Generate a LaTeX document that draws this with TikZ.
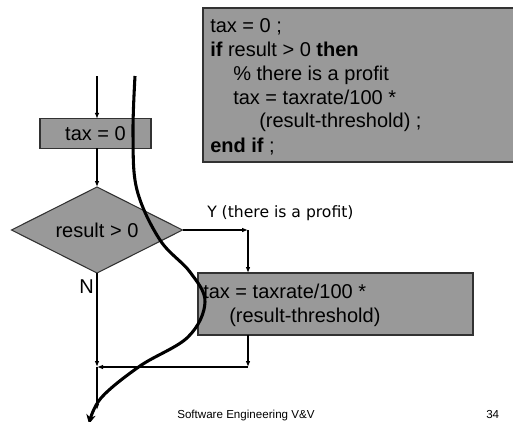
\documentclass[tikz,border=0pt]{standalone}
\usepackage{fontspec}
\setmainfont{Liberation Sans}
\newfontfamily\verdfont{DejaVu Sans}
\usetikzlibrary{shapes.geometric,arrows.meta}
\definecolor{boxgray}{RGB}{153,153,153}
\definecolor{edgegray}{RGB}{50,50,50}
\begin{document}
\begin{tikzpicture}[x=0.75pt,y=-0.75pt,
  box/.style={draw=edgegray, fill=boxgray, line width=0.8pt, inner sep=0pt, outer sep=0pt},
  flow/.style={line width=1pt, -{Latex[length=4.5pt,width=3.5pt]}},
  bigfont/.style={font=\fontsize{15}{18}\selectfont},
  codetxt/.style={anchor=base west, inner sep=0pt, bigfont},
  boxtxt/.style={anchor=base west, inner sep=0pt, bigfont},
  footer/.style={anchor=base west, inner sep=0pt, font=\fontsize{8.7}{10}\selectfont}]
\useasboundingbox (0,0) rectangle (513,421);

% code box
\node[box, minimum width=234.75pt, minimum height=115.5pt] (code) at (359.5,85) {};
\node[codetxt] (c1) at (210,32) {tax = 0 ;};
\node[codetxt] (c2) at (210,56) {\textbf{if} result > 0 \textbf{then}};
\node[codetxt] (c3) at (233,80) {\% there is a profit};
\node[codetxt] (c4) at (233,104) {tax = taxrate/100 *};
\node[codetxt] (c5) at (259,127) {(result-threshold) ;};
\node[codetxt] (c6) at (210,152) {\textbf{end if} ;};

% flowchart
\coordinate (in) at (97,76);
\node[box, minimum width=83.25pt, minimum height=22pt, bigfont] (t0) at (95.5,133.5) {tax = 0};
\node[box, diamond, minimum width=128.25pt, minimum height=64.5pt] (dia) at (97,230) {};
\node[inner sep=0pt, bigfont] (diatxt) at (97,230) {result > 0};
\node[box, minimum width=206.25pt, minimum height=46.5pt] (big) at (335.5,304) {};
\node[boxtxt] (b1) at (203,298) {tax = taxrate/100 *};
\node[boxtxt] (b2) at (229,322) {(result-threshold)};

\coordinate (yc) at (248,230);
\coordinate (rc) at (248,367);
\coordinate (m) at (97,367);
\coordinate (out) at (97,410);

\draw[flow] (in) -- (in |- t0.north);
\draw[flow] (in |- t0.south) -- (dia.north);
\draw[flow] (dia.east) -- (yc);
\draw[flow] (yc) -- (yc |- big.north);
\draw[flow] (yc |- big.south) -- (rc);
\draw[flow] (rc) -- (m);
\draw[flow] (dia.south) -- (m);
\draw[flow] (m) -- (out);

\node[anchor=base west, inner sep=0pt, font=\verdfont\fontsize{11.7}{14}\selectfont] (ylab) at (207,217) {Y (there is a profit)};
\node[anchor=base west, inner sep=0pt, bigfont] (nlab) at (79,293) {N};

% thick path annotation
\draw[line width=2.3pt, -{Stealth[length=7pt,width=7pt]}] plot[smooth, tension=0.6] coordinates {(135,76) (133,135) (137,190) (160,240) (190,272) (205,302) (188,337) (140,366) (101,398) (89,424)};

% footer
\node[footer] (foot) at (177,418) {Software Engineering V\&V};
\node[footer] (page) at (486,418) {34};
\end{tikzpicture}
\end{document}
